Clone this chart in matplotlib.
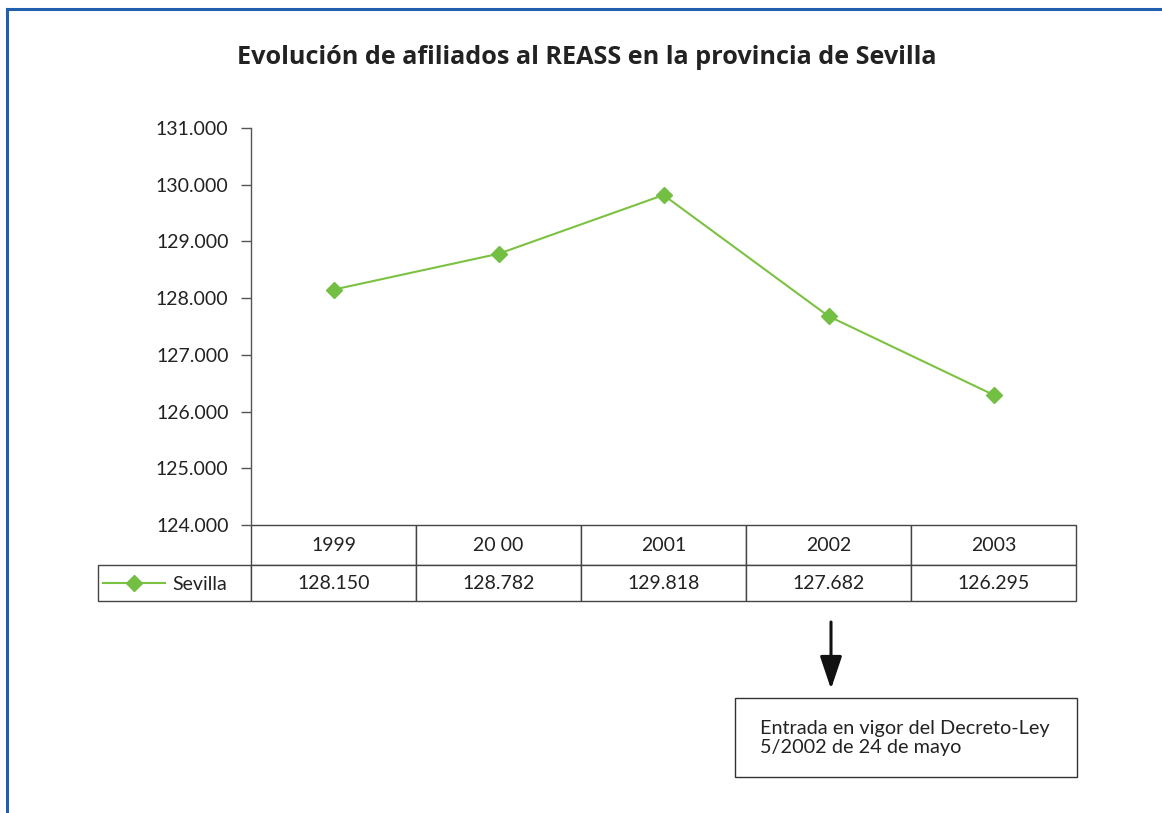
import matplotlib
matplotlib.use("Agg")
import matplotlib.pyplot as plt
from matplotlib.lines import Line2D
from matplotlib.patches import Rectangle, FancyArrowPatch

# ---- data ----
title = "Evolución de afiliados al REASS en la provincia de Sevilla"
years = ["1999", "20 00", "2001", "2002", "2003"]
series_name = "Sevilla"
afiliados = [128150, 128782, 129818, 127682, 126295]
y_ticks = [124000, 125000, 126000, 127000, 128000, 129000, 130000, 131000]
note = "Entrada en vigor del Decreto-Ley\n5/2002 de 24 de mayo"

def fmt(v):
    return f"{v:,}".replace(",", ".")

plt.rcParams['font.family'] = ['Lato', 'DejaVu Sans']
FS = 14

W, H = 1162, 813
fig = plt.figure(figsize=(W / 100, H / 100), dpi=100)
fig.patch.set_facecolor('white')

def fx(px):
    return px / W

def fy(py):
    return 1 - py / H

# blue frame (top + left)
blue = '#1f5fae'
fig.add_artist(Line2D([fx(7), 1.0], [fy(9), fy(9)], color=blue, lw=2.2))
fig.add_artist(Line2D([fx(7), fx(7)], [fy(9), 0.0], color=blue, lw=2.2))

# title
fig.text(fx(587), fy(58), title, ha='center', va='center',
         fontsize=18.2, fontweight='bold', color='#222222',
         family=['Open Sans', 'DejaVu Sans'])

# axes
ax_l, ax_r, ax_t, ax_b = 251, 1076, 128, 525
ax = fig.add_axes([fx(ax_l), fy(ax_b), fx(ax_r - ax_l), (ax_b - ax_t) / H])
green = '#7cc242'
x = list(range(len(years)))
line, = ax.plot(x, afiliados, color=green, lw=1.5, marker='D', markersize=7.8,
                markerfacecolor='#72bf44', markeredgecolor='#72bf44', zorder=3)
ax.set_xlim(-0.5, len(years) - 0.5)
ax.set_ylim(y_ticks[0], y_ticks[-1])
ax.set_yticks(y_ticks)
ax.set_yticklabels([fmt(v) for v in y_ticks])
ax.set_xticks([])
for s in ['top', 'right', 'bottom']:
    ax.spines[s].set_visible(False)
ax.spines['left'].set_color('#555555')
ax.spines['left'].set_linewidth(1.0)
ax.tick_params(axis='y', direction='out', length=7.2, width=1.0, color='#555555',
               pad=9, labelsize=FS, labelcolor='#222222')

# data table (placed directly below the axes)
axw = ax_r - ax_l
axh = ax_b - ax_t
lab_w, col_w = 153, 165
hdr_h, row_h = 40, 36
tbl = ax.table(cellText=[[fmt(v) for v in afiliados]], colLabels=years,
               rowLabels=[''], cellLoc='center', loc='bottom')
tbl.auto_set_font_size(False)
tbl._autoColumns = []
for (r, c), cell in tbl.get_celld().items():
    cell.set_edgecolor('#444444')
    cell.set_linewidth(1.0)
    cell.set_width((lab_w if c == -1 else col_w) / axw)
    cell.set_height((hdr_h if r == 0 else row_h) / axh)
    cell.get_text().set_fontsize(FS)
    cell.get_text().set_color('#222222')

# legend key inside the row-label cell
ax.legend([line], [series_name], loc='center left',
          bbox_to_anchor=(-(ax_l - 103) / axw, -(584 - ax_b) / axh),
          frameon=False, borderaxespad=0, borderpad=0, fontsize=FS,
          handlelength=3.2, handletextpad=0.36, numpoints=1,
          labelcolor='#222222')

# arrow and note box
arrow = FancyArrowPatch((fx(831), fy(622)), (fx(831), fy(689)),
                        transform=fig.transFigure,
                        arrowstyle='-|>,head_length=1.25,head_width=0.42',
                        mutation_scale=16, color='#111111', lw=2.2,
                        shrinkA=0, shrinkB=0)
fig.add_artist(arrow)
fig.add_artist(Rectangle((fx(735), fy(777)), fx(1077 - 735), (777 - 698) / H,
                         transform=fig.transFigure, fill=False,
                         edgecolor='#333333', lw=1.0))
fig.text(fx(760), fy(738), note, ha='left', va='center', fontsize=14.3,
         color='#222222', linespacing=1.15)

fig.savefig('out.png', dpi=100)
